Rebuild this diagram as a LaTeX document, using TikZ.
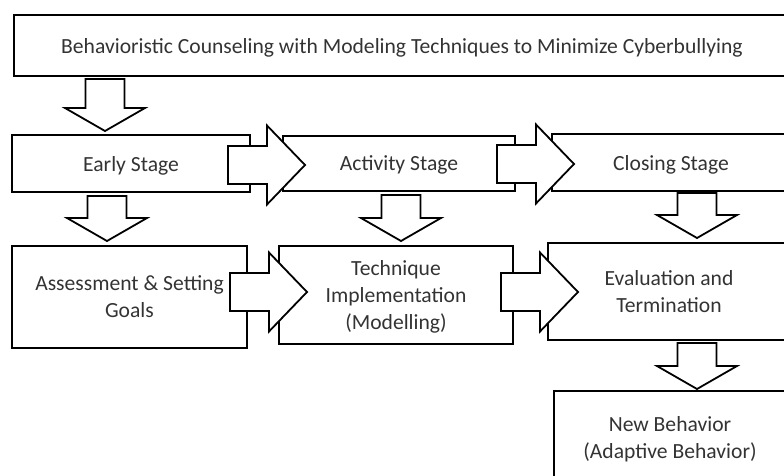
\documentclass[tikz,border=0pt]{standalone}
\usepackage{fontspec}
\setmainfont{Carlito}
\tikzset{
    stagebox/.style={draw, line width=1.8pt, align=center, inner sep=0pt,
        text depth=0pt, text=black!80, font=\fontsize{21.6}{27}\selectfont},
    blockarr/.style={draw, fill=white, line width=1.8pt, line join=miter},
    downarr/.pic={\draw[blockarr] (-19.5,-#1) -- (19.5,-#1) -- (19.5,-23) -- (40,-23) -- (0,0) -- (-40,-23) -- (-19.5,-23) -- cycle;},
    rightarr/.pic={\draw[blockarr] (-77,-19) -- (-38,-19) -- (-38,-39.5) -- (0,0) -- (-38,39.5) -- (-38,19) -- (-77,19) -- cycle;}
}
\begin{document}
\begin{tikzpicture}[x=1pt, y=-1pt]
        \useasboundingbox (0,0) rectangle (784,475);
        \clip (0,0) rectangle (784,475);
        % boxes
        \node[stagebox, minimum width=776, minimum height=61] (title) at (402,45.5) {Behavioristic Counseling with Modeling Techniques to Minimize Cyberbullying};
        \node[stagebox, minimum width=238, minimum height=57] (early) at (131,163.5) {Early Stage};
        \node[stagebox, minimum width=232, minimum height=55] (activity) at (399,163.5) {Activity Stage};
        \node[stagebox, minimum width=238, minimum height=57] (closing) at (671,162.5) {Closing Stage};
        \node[stagebox, minimum width=235, minimum height=102] (assess) at (129.5,297) {Assessment \& Setting\\Goals};
        \node[stagebox, minimum width=234, minimum height=98] (technique) at (396,295) {Technique\\Implementation\\(Modelling)};
        \node[stagebox, minimum width=242, minimum height=97] (evaluation) at (669,291.5) {Evaluation and\\Termination};
        \node[stagebox, minimum width=232, minimum height=92] (newbeh) at (670,437) {New Behavior\\(Adaptive Behavior)};
        % block arrows
        \pic at (105,131) {downarr=52};
        \pic at (107,241) {downarr=45};
        \pic at (401,241) {downarr=46};
        \pic at (697,238) {downarr=45};
        \pic at (697,389) {downarr=46};
        \pic at (305,165) {rightarr};
        \pic at (574,164) {rightarr};
        \pic at (307,292) {rightarr};
        \pic at (578,292) {rightarr};
    \end{tikzpicture}
\end{document}
